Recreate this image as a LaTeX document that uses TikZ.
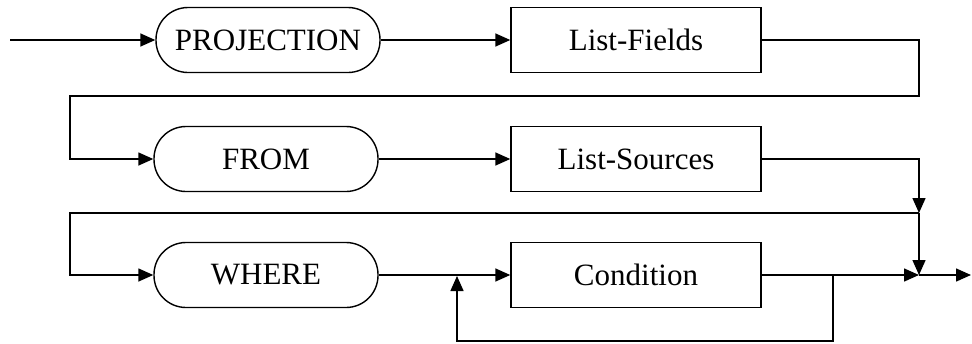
\documentclass[tikz,border=0pt]{standalone}
\usepackage{fontspec}
\setmainfont{Liberation Serif}
\usetikzlibrary{arrows.meta}
\begin{document}
\begin{tikzpicture}[x=1pt,y=-1pt,
  ln/.style={line width=1.5pt,line join=miter},
  arr/.style={ln,-{Triangle[length=15pt,width=13pt]}},
  term/.style={draw,line width=1.4pt,rounded corners=32pt,minimum width=224pt,minimum height=65pt,inner sep=0pt,font=\fontsize{31}{36}\selectfont},
  nonterm/.style={draw,line width=1.4pt,minimum width=250pt,minimum height=65pt,inner sep=0pt,font=\fontsize{31}{36}\selectfont}]
\useasboundingbox (0,0) rectangle (972,343);
\node[term] (proj) at (268,40) {PROJECTION};
\node[nonterm] (fields) at (636,40) {List-Fields};
\node[term] (from) at (266,159) {FROM};
\node[nonterm] (sources) at (636,159) {List-Sources};
\node[term] (where) at (266,275) {WHERE};
\node[nonterm] (cond) at (636,275) {Condition};
\coordinate (start) at (10,40);
\coordinate (c1) at (919,96);
\coordinate (c2) at (70,96);
\coordinate (m1) at (919,213);
\coordinate (m2) at (70,213);
\coordinate (mg) at (919,275);
\coordinate (out) at (971,275);
\coordinate (l1) at (833,275);
\coordinate (l2) at (833,341);
\coordinate (l4) at (457,276);
\draw[arr] (start) -- (proj.west);
\draw[arr] (proj.east) -- (fields.west);
\draw[arr] (fields.east) -| (c1) -- (c2) |- (from.west);
\draw[arr] (from.east) -- (sources.west);
\draw[arr] (sources.east) -| (m1);
\draw[arr] (m1) -- (m2) |- (where.west);
\draw[arr] (m1) -- (mg);
\draw[arr] (where.east) -- (cond.west);
\draw[arr] (cond.east) -- (mg);
\draw[arr] (mg) -- (out);
\draw[arr] (l1) -- (l2) -| (l4);
\end{tikzpicture}
\end{document}
